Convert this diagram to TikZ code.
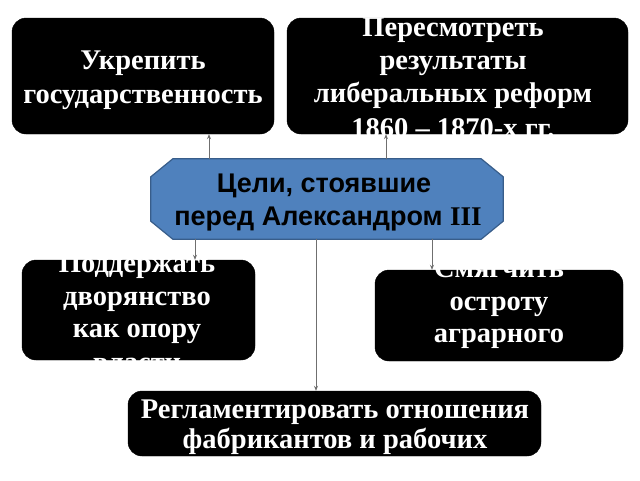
\documentclass[tikz,border=0pt]{standalone}
\usepackage{fontspec}
\setmainfont{Liberation Serif}
\newfontfamily\hexfont{Liberation Sans}
\usetikzlibrary{arrows.meta}
\definecolor{hexfill}{HTML}{4F81BD}
\definecolor{hexline}{HTML}{385D8A}
\definecolor{connc}{HTML}{6F6F6F}
\tikzset{
 goalbox/.style={draw=black, fill=black, rounded corners=14pt, inner sep=0pt},
 goalline/.style={text=white, font=\bfseries\fontsize{28.5}{33}\selectfont, anchor=base, inner sep=0pt},
 hexframe/.style={draw=none, minimum width=352pt, minimum height=80pt, inner sep=0pt},
 hexshape/.style={fill=hexfill, draw=hexline, line width=1.2pt},
 hexline/.style={font=\hexfont\bfseries\fontsize{27}{33}\selectfont, anchor=base, inner sep=0pt},
 connarrow/.style={draw=connc, line width=0.7pt, -{Stealth[length=5pt,width=4pt]}}
}
\begin{document}
\begin{tikzpicture}[x=1pt,y=-1pt]
\useasboundingbox[fill=white] (0,0) rectangle (640,480);
% boxes
\node[goalbox, minimum width=262pt, minimum height=116pt] (b1) at (143,76) {};
\node[goalbox, minimum width=341pt, minimum height=116pt] (b2) at (457.5,76) {};
\node[goalbox, minimum width=233pt, minimum height=100pt] (b3) at (138.5,310) {};
\node[goalbox, minimum width=248pt, minimum height=91pt] (b4) at (499,315.5) {};
\node[goalbox, minimum width=413pt, minimum height=65pt] (b5) at (334.5,423.5) {};
% octagon
\node[hexframe] (hex) at (327,199) {};
\draw[hexshape] ([xshift=22pt]hex.north west) -- ([xshift=-22pt]hex.north east)
  -- ([yshift=-18pt]hex.north east) -- ([yshift=18pt]hex.south east)
  -- ([xshift=-22pt]hex.south east) -- ([xshift=22pt]hex.south west)
  -- ([yshift=18pt]hex.south west) -- ([yshift=-18pt]hex.north west) -- cycle;
% texts
\node[goalline] (t1a) at (143,69) {Укрепить};
\node[goalline] (t1b) at (143,103) {государственность};
\node[goalline] (t2a) at (453,36) {Пересмотреть};
\node[goalline] (t2b) at (453,69) {результаты};
\node[goalline] (t2c) at (453,102) {либеральных реформ};
\node[goalline] (t2d) at (453,137) {1860 – 1870-х гг.};
\node[goalline] (t3a) at (137,272.5) {Поддержать};
\node[goalline] (t3b) at (137,305) {дворянство};
\node[goalline] (t3c) at (137,337.5) {как опору};
\node[goalline] (t3d) at (137,371) {власти};
\node[goalline] (t4a) at (499,277) {Смягчить};
\node[goalline] (t4b) at (499,310) {остроту};
\node[goalline] (t4c) at (499,342) {аграрного};
\node[goalline] (t5a) at (335,418) {Регламентировать отношения};
\node[goalline] (t5b) at (335,448) {фабрикантов и рабочих};
\node[hexline] (tha) at (324,192) {Цели, стоявшие};
\node[hexline] (thb) at (328,225) {перед Александром {\rmfamily III}};
% connectors
\coordinate (x1) at (209,0);
\coordinate (x2) at (386,0);
\coordinate (x3) at (195,0);
\coordinate (x4) at (316,0);
\coordinate (x5) at (432,0);
\draw[connarrow] (hex.north -| x1) -- (b1.south -| x1);
\draw[connarrow] (hex.north -| x2) -- (b2.south -| x2);
\draw[connarrow] (hex.south -| x3) -- (b3.north -| x3);
\draw[connarrow] (hex.south -| x4) -- (b5.north -| x4);
\draw[connarrow] (hex.south -| x5) -- (b4.north -| x5);
\end{tikzpicture}
\end{document}
